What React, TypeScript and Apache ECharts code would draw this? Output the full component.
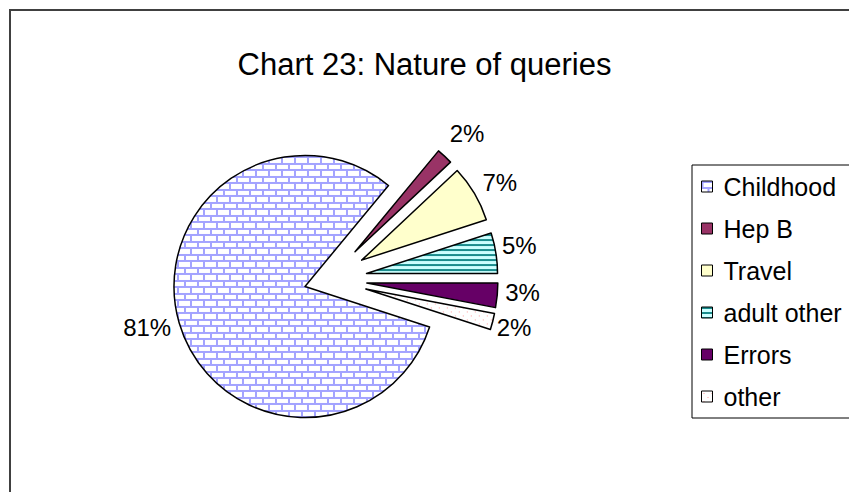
import React, { useEffect, useRef } from 'react';
import * as echarts from 'echarts';

const titleText = 'Chart 23: Nature of queries';
const categories = ['Childhood', 'Hep B', 'Travel', 'adult other', 'Errors', 'other'];
const values = [81, 2, 7, 5, 3, 2];
// which slices are pulled out of the main pie (Childhood is pulled a little the other way)
const exploded = [false, true, true, true, true, true];

const FONT = '"Liberation Sans", Arial, sans-serif';
// label nudges (style only)
const labelNudge: [number, number][] = [[-4, 4], [1, -23], [4, -10.5], [2, -8], [4, -2.5], [0, 6]];

function makeCanvas(w: number, h: number, draw: (ctx: CanvasRenderingContext2D) => void) {
  const c = document.createElement('canvas');
  c.width = w;
  c.height = h;
  const ctx = c.getContext('2d') as CanvasRenderingContext2D;
  draw(ctx);
  return c;
}

function brick() {
  const w = 13, h = 13;
  const c = makeCanvas(w, h, (ctx) => {
    ctx.fillStyle = '#ffffff';
    ctx.fillRect(0, 0, w, h);
    ctx.fillStyle = '#a3a3ff';
    ctx.fillRect(0, 0, w, 2);
    ctx.fillRect(0, 6, w, 2);
    ctx.fillRect(0, 0, 2, 6);
    ctx.fillRect(6, 6, 2, 7);
  });
  return { image: c, repeat: 'repeat', imageWidth: w, imageHeight: h } as any;
}

function stripes() {
  const w = 4, h = 5;
  const c = makeCanvas(w, h, (ctx) => {
    ctx.fillStyle = '#ccffff';
    ctx.fillRect(0, 0, w, h);
    ctx.fillStyle = '#1a8c8c';
    ctx.fillRect(0, 0, w, 2);
  });
  return { image: c, repeat: 'repeat', imageWidth: w, imageHeight: h } as any;
}

function dots() {
  const w = 8, h = 8;
  const c = makeCanvas(w, h, (ctx) => {
    ctx.fillStyle = '#ffffff';
    ctx.fillRect(0, 0, w, h);
    ctx.fillStyle = '#ff9a9a';
    ctx.fillRect(2, 2, 1, 1);
    ctx.fillRect(6, 6, 1, 1);
  });
  return { image: c, repeat: 'repeat', imageWidth: w, imageHeight: h } as any;
}

export default function App() {
  const ref = useRef<HTMLDivElement>(null);
  useEffect(() => {
    if (!ref.current) return;
    const chart = echarts.init(ref.current, undefined, { renderer: 'svg' });
    const fills: any[] = [brick(), '#993366', '#ffffcc', stripes(), '#660066', dots()];
    const border = { borderColor: '#000000', borderWidth: 1.5 };
    const hidden = { color: 'rgba(0,0,0,0)', borderWidth: 0, borderColor: 'rgba(0,0,0,0)' };

    const makeSeries = (showMain: boolean, offset: number) => ({
      type: 'pie',
      center: [329, 279.5],
      radius: 131,
      startAngle: -18,
      clockwise: true,
      selectedMode: 'multiple',
      selectedOffset: offset,
      avoidLabelOverlap: false,
      percentPrecision: 0,
      emphasis: { disabled: true },
      silent: true,
      label: {
        show: true,
        position: 'outside',
        formatter: '{d}%',
        fontFamily: FONT,
        fontSize: 24,
        color: '#000000',
        distanceToLabelLine: 4,
      },
      labelLine: { show: false, length: 0, length2: 0 },
      labelLayout: (p: any) => ({
        dx: labelNudge[p.dataIndex][0],
        dy: labelNudge[p.dataIndex][1],
        hideOverlap: false,
      }),
      data: categories.map((name, i) => {
        const visible = showMain ? !exploded[i] : exploded[i];
        const style = visible ? { color: fills[i], ...border } : hidden;
        return {
          name,
          value: values[i],
          selected: visible,
          itemStyle: style,
          select: { itemStyle: style },
          label: { show: visible },
        };
      }),
    });

    chart.setOption({
      animation: false,
      backgroundColor: '#ffffff',
      title: {
        text: titleText,
        left: 'center',
        top: 44,
        textStyle: { fontFamily: FONT, fontSize: 31, fontWeight: 'normal', color: '#000000' },
      },
      graphic: [
        {
          type: 'rect',
          silent: true,
          z: -1,
          shape: { x: 10, y: 10, width: 1000, height: 1000 },
          style: { fill: 'none', stroke: '#404040', lineWidth: 2 },
        },
      ],
      legend: {
        orient: 'vertical',
        left: 692,
        top: 165,
        padding: [9, 40, 9, 9],
        itemWidth: 11,
        itemHeight: 11,
        itemGap: 17,
        icon: 'rect',
        borderColor: '#000000',
        borderWidth: 1,
        selectedMode: false,
        textStyle: { fontFamily: FONT, fontSize: 25, color: '#000000', padding: [0, 0, 0, 6] },
        data: categories.map((name, i) => ({
          name,
          itemStyle: { color: fills[i], borderColor: '#000000', borderWidth: 1 },
        })),
      },
      series: [makeSeries(true, 25), makeSeries(false, 38)],
    });
    return () => chart.dispose();
  }, []);
  return (
    <div
      ref={ref}
      style={{ position: 'absolute', left: 0, top: 0, width: 849, height: 492 }}
    />
  );
}
